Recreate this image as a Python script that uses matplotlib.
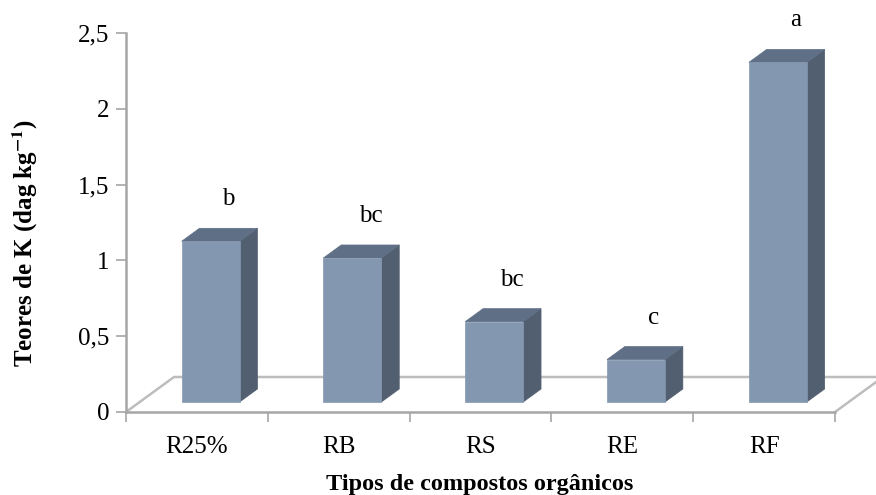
import numpy as np
import matplotlib.pyplot as plt
from matplotlib.patches import Polygon

plt.rcParams['font.family'] = ['Liberation Serif', 'DejaVu Serif']
plt.rcParams['mathtext.fontset'] = 'stix'

categorias = ['R25%', 'RB', 'RS', 'RE', 'RF']
teores_k = [1.06, 0.95, 0.53, 0.28, 2.24]
letras = ['b', 'bc', 'bc', 'c', 'a']
yticks = [0, 0.5, 1, 1.5, 2, 2.5]
ytick_labels = ['0', '0,5', '1', '1,5', '2', '2,5']

W, H = 876, 495
fig = plt.figure(figsize=(W / 100, H / 100), dpi=100)
x0, x1, y0, y1 = 126, 835, 33, 412
ax = fig.add_axes([x0 / W, (H - y1) / H, (x1 - x0) / W, (y1 - y0) / H])
ax.set_xlim(0, len(categorias))
ax.set_ylim(0, 2.5)

# pixel -> data scale
sx = len(categorias) / (x1 - x0)
sy = 2.5 / (y1 - y0)

# oblique depth of the floor
DX, DY = 48 * sx, 35 * sy
f1, f2 = 10 / 35, 23 / 35
bw = 58 * sx

cinza = '#BDBDBD'
frente = '#8497B0'
topo = '#5F6F86'
lado = '#525F71'
fs = 18

# floor outline
n = len(categorias)
ax.plot([0, DX, n + DX], [0, DY, DY], color=cinza, lw=1.8, clip_on=False, zorder=1)
ax.plot([n, n + DX], [0, DY], color=cinza, lw=1.8, clip_on=False, zorder=1)

for i, (v, let) in enumerate(zip(teores_k, letras)):
    xl = i + 0.5 - bw / 2 + f1 * DX
    yb = f1 * DY
    ddx = (f2 - f1) * DX
    ddy = (f2 - f1) * DY
    front = [(xl, yb), (xl + bw, yb), (xl + bw, yb + v), (xl, yb + v)]
    top = [(xl, yb + v), (xl + bw, yb + v), (xl + bw + ddx, yb + v + ddy), (xl + ddx, yb + v + ddy)]
    side = [(xl + bw, yb), (xl + bw + ddx, yb + ddy), (xl + bw + ddx, yb + v + ddy), (xl + bw, yb + v)]
    for pts, c in [(side, lado), (top, topo), (front, frente)]:
        ax.add_patch(Polygon(pts, closed=True, facecolor=c, edgecolor=c, lw=0.5,
                             clip_on=False, zorder=3))
    ax.text(i + 0.5 + f1 * DX + 18 * sx, yb + v + 42 * sy, let, ha='center', va='center',
            fontsize=fs, zorder=4)

for s in ['top', 'right']:
    ax.spines[s].set_visible(False)
for s in ['left', 'bottom']:
    ax.spines[s].set_color('#A6A6A6')
    ax.spines[s].set_linewidth(1.8)
ax.spines['bottom'].set_zorder(2)

ax.set_yticks(yticks)
ax.set_yticklabels(ytick_labels, fontsize=fs)
ax.tick_params(axis='y', length=7, width=1.2, color='#A6A6A6', pad=5)

ax.set_xticks(np.arange(n) + 0.5)
ax.set_xticklabels(categorias, fontsize=fs)
ax.set_xticks(np.arange(n + 1), minor=True)
ax.tick_params(axis='x', which='major', length=0, pad=17)
ax.tick_params(axis='x', which='minor', length=7, width=1.2, color='#A6A6A6')

ax.set_ylabel(r'Teores de K (dag kg$^{\mathbf{-1}}$)', fontsize=fs, fontweight='bold')
ax.yaxis.set_label_coords((40 - x0) / (x1 - x0), (y1 - 243) / (y1 - y0))
ax.set_xlabel('Tipos de compostos orgânicos', fontsize=17.5, fontweight='bold')
ax.xaxis.set_label_coords((480 - x0) / (x1 - x0), -(474 - y1) / (y1 - y0))

fig.savefig('out.png', dpi=100)
